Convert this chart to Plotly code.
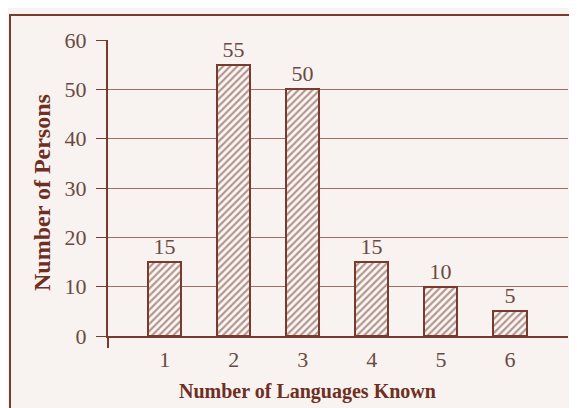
import plotly.graph_objects as go

languages = [1, 2, 3, 4, 5, 6]
persons = [15, 55, 50, 15, 10, 5]
y_ticks = [0, 10, 20, 30, 40, 50, 60]

brown = "#7a3b2f"
text_col = "#6a4a42"
bg = "#f8f3f0"
serif = "Liberation Serif, Times New Roman, serif"

# the page body adds an 8px margin; figure coordinates are page coordinates minus OFF
OFF = 8
W, H = 577 - OFF, 408 - OFF
L, R, T, B = 108 - OFF, 568 - OFF, 40 - OFF, 336 - OFF

fig = go.Figure()
fig.add_trace(go.Bar(
    x=languages, y=persons, width=0.48,
    marker=dict(color=bg, line=dict(color=brown, width=2),
                pattern=dict(shape="/", fgcolor="#6e3327", bgcolor="#fbf8f6", size=5, solidity=0.45)),
    text=persons, textposition="outside", cliponaxis=False,
    textfont=dict(family=serif, size=22, color=text_col),
))

fig.update_layout(
    width=W, height=H, autosize=False,
    margin=dict(l=L, r=W - R, t=T, b=H - B),
    paper_bgcolor=bg, plot_bgcolor=bg,
    showlegend=False, bargap=0,
    font=dict(family=serif, size=22, color=text_col),
    xaxis=dict(range=[0.18, 6.84], tickvals=languages, showgrid=False, zeroline=False,
               showline=True, linecolor=brown, linewidth=2, ticks="", ticklen=0,
               ticklabelstandoff=3, tickfont=dict(family=serif, size=22, color=text_col)),
    yaxis=dict(range=[0, 60], tickvals=y_ticks, showgrid=True, gridcolor="#9a7064", gridwidth=1,
               zeroline=False, showline=True, linecolor=brown, linewidth=2,
               ticks="outside", ticklen=10, tickcolor=brown, tickwidth=1,
               ticklabelstandoff=5, tickfont=dict(family=serif, size=22, color=text_col)),
)

def px_x(p):
    return (p - OFF - L) / (R - L)

def px_y(p):
    return (B - (p - OFF)) / (B - T)

# frame around the chart (page coordinates)
fig.add_shape(type="rect", xref="paper", yref="paper",
              x0=px_x(10), x1=px_x(620), y0=px_y(440), y1=px_y(15),
              line=dict(color=brown, width=2), fillcolor="rgba(0,0,0,0)", layer="below")
# short extension of the y axis below the baseline
fig.add_shape(type="line", xref="paper", yref="paper",
              x0=0, x1=0, y0=px_y(348), y1=0, line=dict(color=brown, width=2))

fig.add_annotation(text="<b>Number of Languages Known</b>", xref="paper", yref="paper",
                   x=px_x(307), y=px_y(391), xanchor="center", yanchor="middle", showarrow=False,
                   font=dict(family=serif, size=20, color="#6e2e22"))
fig.add_annotation(text="<b>Number of Persons</b>", xref="paper", yref="paper",
                   x=px_x(42), y=px_y(193), xanchor="center", yanchor="middle", showarrow=False,
                   textangle=-90, font=dict(family=serif, size=24, color="#6e2e22"))

fig.write_html("out.html")
